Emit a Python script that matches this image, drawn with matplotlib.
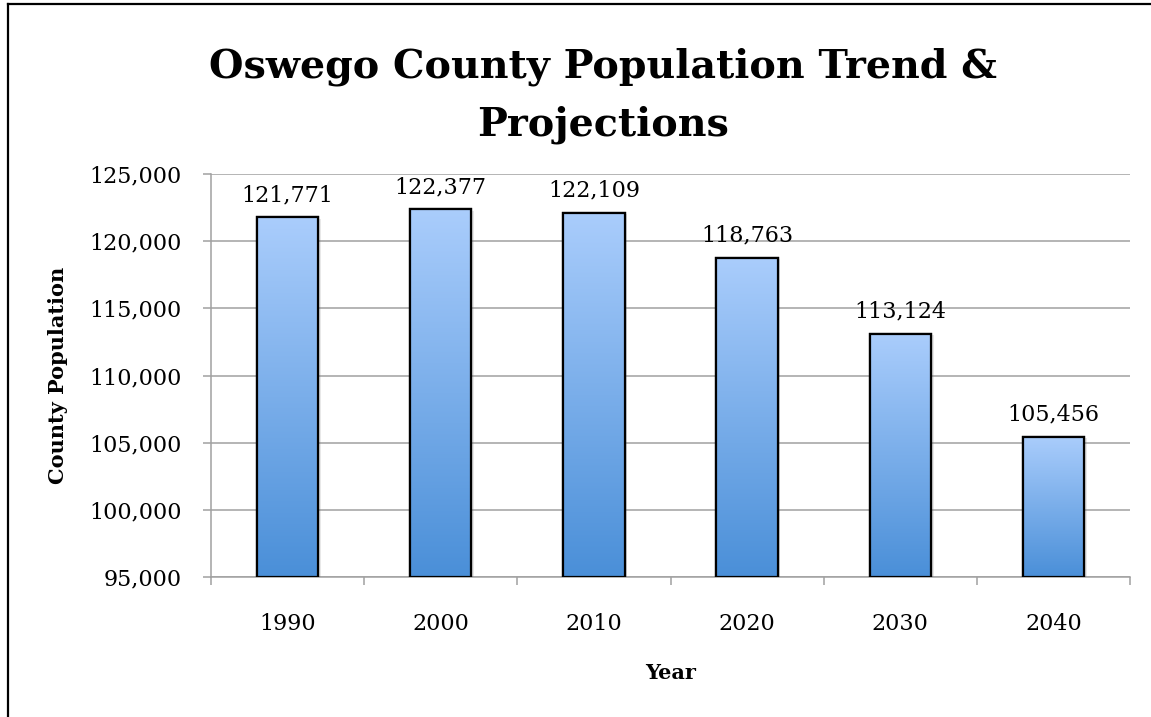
import numpy as np
import matplotlib
matplotlib.use("Agg")
import matplotlib.pyplot as plt
from matplotlib.colors import LinearSegmentedColormap
from matplotlib.lines import Line2D
from matplotlib import patheffects

years = ["1990", "2000", "2010", "2020", "2030", "2040"]
population = [121771, 122377, 122109, 118763, 113124, 105456]
yticks = [95000, 100000, 105000, 110000, 115000, 120000, 125000]

plt.rcParams['font.family'] = ['DejaVu Serif']

fig = plt.figure(figsize=(11.51, 7.17), dpi=100)
ax = fig.add_axes([211 / 1151, 140 / 717, 919 / 1151, 403 / 717])

grid_col = "#a0a0a0"
bar_cmap = LinearSegmentedColormap.from_list("bluefade", ["#4a8fd8", "#aacdfc"])
grad = np.linspace(0, 1, 256).reshape(-1, 1)

x = np.arange(len(years))
bars = ax.bar(x, [p - yticks[0] for p in population], bottom=yticks[0], width=0.4,
              facecolor="#4a8fd8", edgecolor="black", linewidth=1.6, zorder=3)

for b, val in zip(bars, population):
    b.set_path_effects([patheffects.SimplePatchShadow(offset=(2, -1), alpha=0.18,
                                                       shadow_rgbFace="gray"),
                        patheffects.Normal()])
    x0 = b.get_x()
    im = ax.imshow(grad, extent=[x0, x0 + b.get_width(), yticks[0], val],
                   origin="lower", aspect="auto", cmap=bar_cmap, zorder=3.5)
    im.set_clip_path(b)
    # outline again over the gradient
    ax.bar(b.get_x() + b.get_width() / 2, val - yticks[0], bottom=yticks[0],
           width=b.get_width(), facecolor="none", edgecolor="black",
           linewidth=1.6, zorder=4)
    ax.annotate(f"{val:,}", (b.get_x() + b.get_width() / 2, val),
                xytext=(0, 11.5), textcoords="offset points",
                ha="center", va="baseline", fontsize=16)

ax.set_xlim(-0.5, len(years) - 0.5)
ax.set_ylim(yticks[0], yticks[-1])
ax.set_yticks(yticks)
ax.set_yticklabels([f"{t:,}" for t in yticks])
ax.set_xticks(x)
ax.set_xticklabels(years)
ax.set_xticks(np.arange(-0.5, len(years)), minor=True)
ax.tick_params(axis="x", which="major", length=0, pad=26, labelsize=16)
ax.tick_params(axis="x", which="minor", length=6, width=1.1, color=grid_col)
ax.tick_params(axis="y", length=6, width=1.1, color=grid_col, labelsize=16, pad=15)

ax.yaxis.grid(True, color=grid_col, linewidth=1.1)
ax.set_axisbelow(True)
for side in ["top", "right"]:
    ax.spines[side].set_visible(False)
for side in ["left", "bottom"]:
    ax.spines[side].set_color(grid_col)
    ax.spines[side].set_linewidth(1.1)

ax.set_ylabel("County Population", fontsize=15, fontweight="bold")
ax.yaxis.set_label_coords(-0.1556, 0.5)
ax.set_xlabel("Year", fontsize=15, fontweight="bold")
ax.xaxis.set_label_coords(0.5, -0.213)

fig.text(603 / 1151, 1 - 77 / 717, "Oswego County Population Trend &",
         ha="center", va="baseline", fontsize=28.5, fontweight="bold")
fig.text(603 / 1151, 1 - 135 / 717, "Projections",
         ha="center", va="baseline", fontsize=28.5, fontweight="bold")

# outer chart border
fig.add_artist(Line2D([8 / 1151, 8 / 1151], [0, 1 - 4 / 717], color="black", linewidth=1.6))
fig.add_artist(Line2D([8 / 1151, 1], [1 - 4 / 717, 1 - 4 / 717], color="black", linewidth=1.6))

fig.savefig("out.png", dpi=100)
